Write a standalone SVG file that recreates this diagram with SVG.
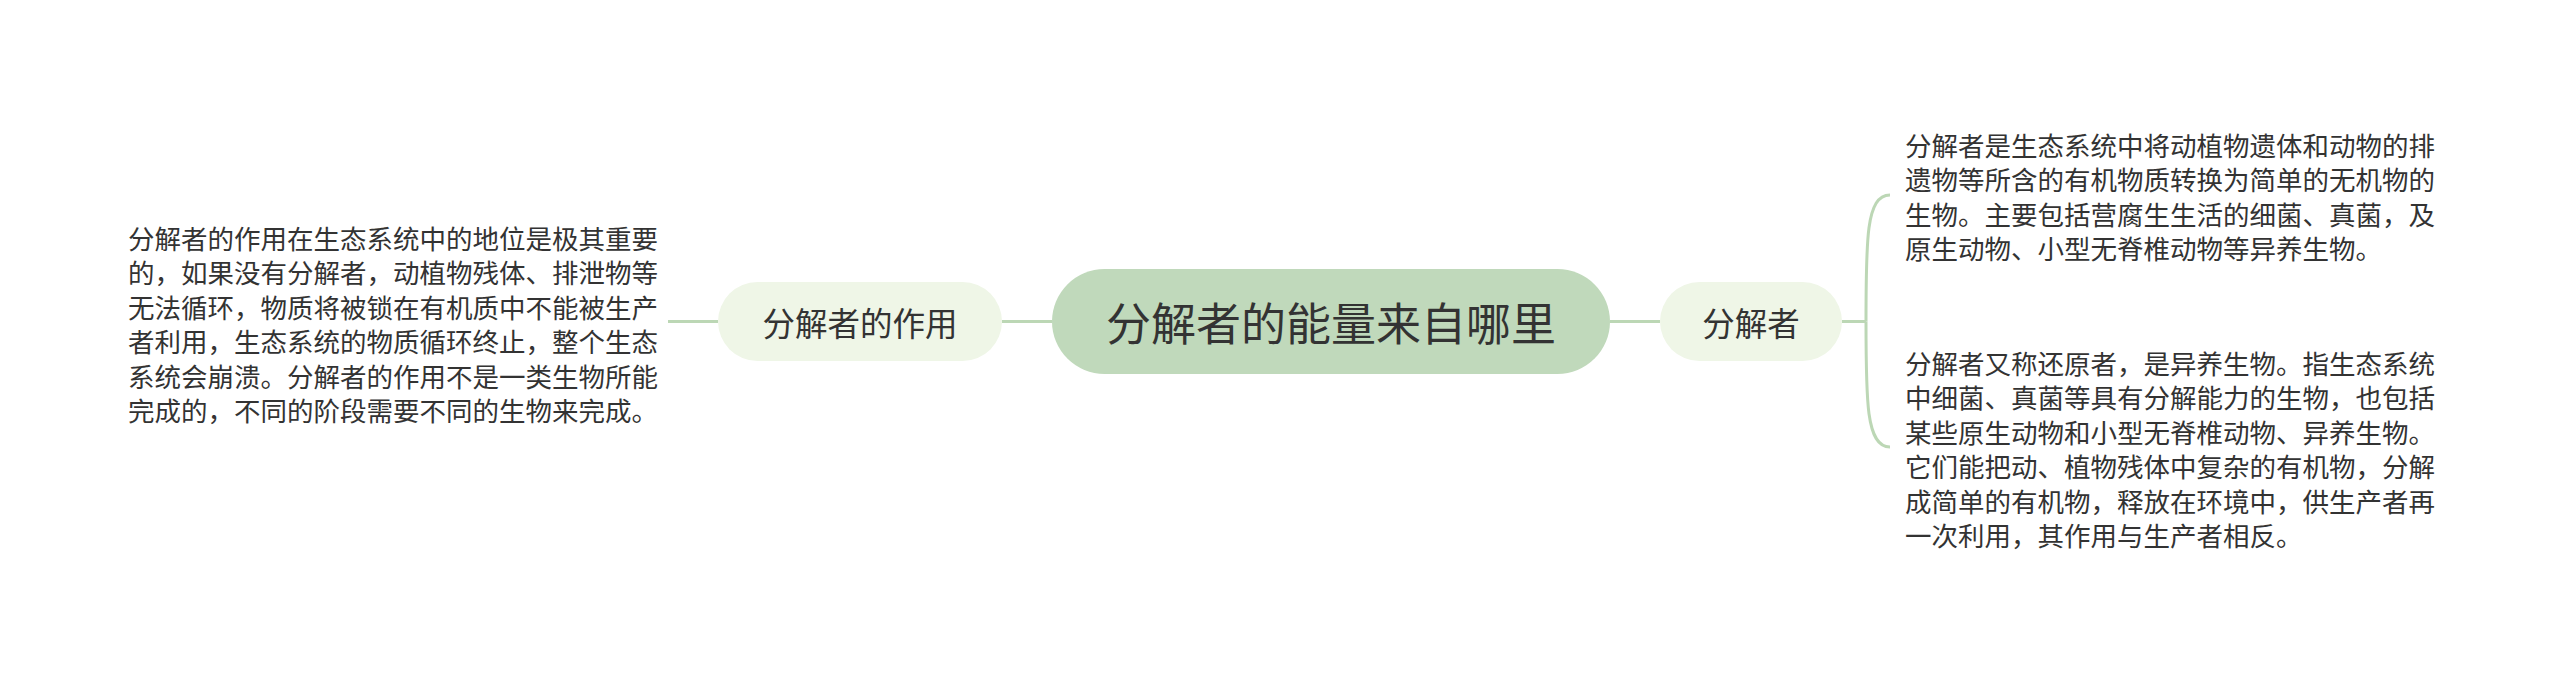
<svg xmlns="http://www.w3.org/2000/svg" width="2560" height="677" viewBox="0 0 2560 677">
<style>
.t{font-family:"Noto Sans CJK SC","Noto Sans",sans-serif;fill:#333;dominant-baseline:central}
.p{font-size:26.5px}
.c{stroke:#bcd7b5;stroke-width:3;fill:none}
</style>
<rect width="2560" height="677" fill="#fff"/>
<g id="connectors">
<path class="c" d="M668,321.5H718"/>
<path class="c" d="M1002,321.5H1052"/>
<path class="c" d="M1610,321.5H1660"/>
<path class="c" d="M1842,321.5H1866"/>
<path class="c" d="M1866,321.5C1866,240 1866,195 1890,195"/>
<path class="c" d="M1866,321.5C1866,400 1866,447 1890,447"/>
</g>
<g id="root">
<rect x="1052" y="269" width="558" height="105" rx="52.5" fill="#c0d9bb"/>
<text class="t" x="1331" y="321.5" font-size="45" text-anchor="middle">分解者的能量来自哪里</text>
</g>
<g id="node-left">
<rect x="718" y="282" width="284" height="79" rx="39.5" fill="#eff6e7"/>
<text class="t" x="860" y="321.5" font-size="32.5" text-anchor="middle">分解者的作用</text>
</g>
<g id="node-left-text">
<text class="t p" x="128" y="237">分解者的作用在生态系统中的地位是极其重要</text>
<text class="t p" x="128" y="271.5">的，如果没有分解者，动植物残体、排泄物等</text>
<text class="t p" x="128" y="306">无法循环，物质将被锁在有机质中不能被生产</text>
<text class="t p" x="128" y="340.5">者利用，生态系统的物质循环终止，整个生态</text>
<text class="t p" x="128" y="375">系统会崩溃。分解者的作用不是一类生物所能</text>
<text class="t p" x="128" y="409.5">完成的，不同的阶段需要不同的生物来完成。</text>
</g>
<g id="node-right">
<rect x="1660" y="282" width="182" height="79" rx="39.5" fill="#eff6e7"/>
<text class="t" x="1751" y="321.5" font-size="32.5" text-anchor="middle">分解者</text>
</g>
<g id="node-right-text-1">
<text class="t p" x="1905" y="144">分解者是生态系统中将动植物遗体和动物的排</text>
<text class="t p" x="1905" y="178.5">遗物等所含的有机物质转换为简单的无机物的</text>
<text class="t p" x="1905" y="213">生物。主要包括营腐生生活的细菌、真菌，及</text>
<text class="t p" x="1905" y="247.5">原生动物、小型无脊椎动物等异养生物。</text>
</g>
<g id="node-right-text-2">
<text class="t p" x="1905" y="362">分解者又称还原者，是异养生物。指生态系统</text>
<text class="t p" x="1905" y="396.5">中细菌、真菌等具有分解能力的生物，也包括</text>
<text class="t p" x="1905" y="431">某些原生动物和小型无脊椎动物、异养生物。</text>
<text class="t p" x="1905" y="465.5">它们能把动、植物残体中复杂的有机物，分解</text>
<text class="t p" x="1905" y="500">成简单的有机物，释放在环境中，供生产者再</text>
<text class="t p" x="1905" y="534.5">一次利用，其作用与生产者相反。</text>
</g>
</svg>
